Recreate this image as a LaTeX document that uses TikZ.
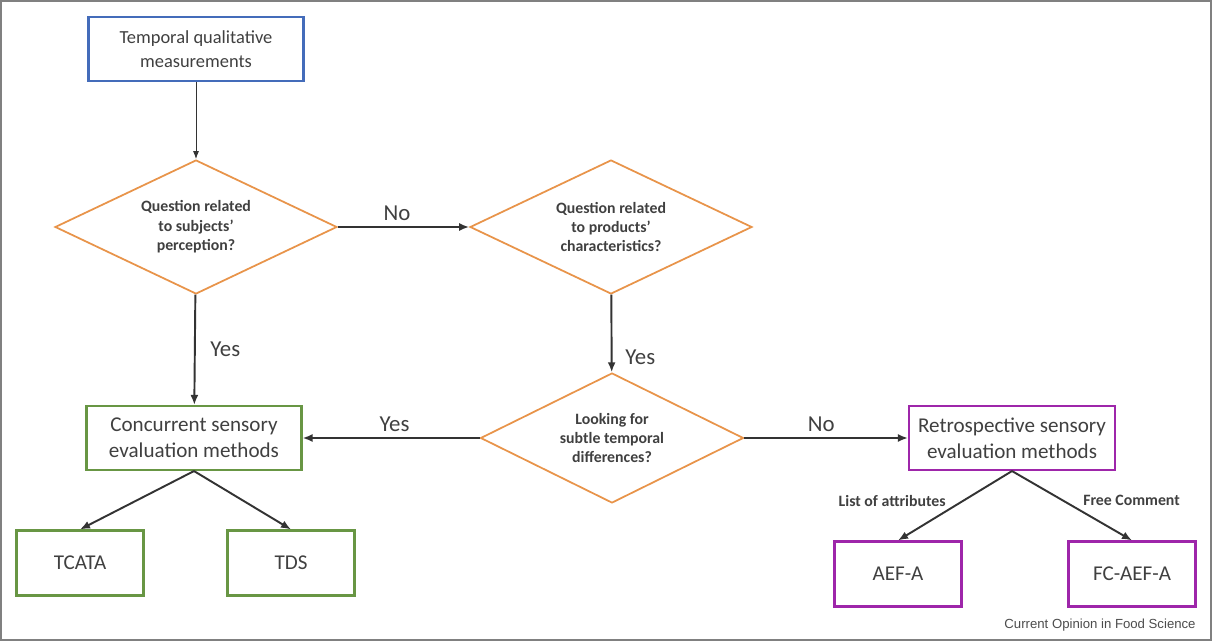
\documentclass[tikz,border=0pt]{standalone}
\usepackage{fontspec}
\setmainfont{Carlito}
\newfontfamily\creditfont{Liberation Sans}
\usetikzlibrary{arrows.meta,positioning,shapes.geometric}
\definecolor{qblue}{RGB}{68,108,186}
\definecolor{qorange}{RGB}{232,148,74}
\definecolor{qgreen}{RGB}{104,150,68}
\definecolor{qpurple}{RGB}{158,38,170}
\definecolor{qtext}{RGB}{64,64,64}

\begin{document}
\begin{tikzpicture}[x=0.02cm,y=-0.02cm,
  box/.style={draw,line width=1.2pt,fill=white,text=qtext,align=center,inner sep=0pt,
    minimum width=4.3cm,minimum height=1.28cm,font=\fontsize{12}{15}\selectfont},
  leaf/.style={box,minimum width=2.54cm,minimum height=1.3cm},
  question/.style={diamond,draw=qorange,line width=1pt,aspect=2.1,inner sep=0pt,
    minimum width=5.64cm,minimum height=2.68cm,align=center,text=qtext,
    font=\bfseries\fontsize{9}{11}\selectfont},
  link/.style={-{Latex[length=2mm,width=1.6mm]},line width=1.1pt,black!80},
  answer/.style={font=\fontsize{13}{15}\selectfont,text=qtext},
  branch/.style={font=\bfseries\fontsize{9}{11}\selectfont,text=qtext}]
  \useasboundingbox (0,0) rectangle (1212,641);
  \draw[gray,line width=0.8pt] (1,1) rectangle (1211,640);

  % start and questions
  \node[box,draw=qblue,font=\fontsize{10.5}{14}\selectfont] (temporal) at (196,49) {Temporal qualitative\\measurements};
  \node[question] (subjects) at (196,227) {Question related\\to subjects'\\perception?};
  \node[question] (products) at (611,227) {Question related\\to products'\\characteristics?};
  \node[question,minimum width=5.26cm,minimum height=2.6cm] (subtle) at (612,438) {Looking for\\subtle temporal\\differences?};

  % method families
  \node[box,draw=qgreen] (concurrent) at (194,438) {Concurrent sensory\\evaluation methods};
  \node[box,draw=qpurple,minimum width=4.12cm] (retro) at (1012,438) {Retrospective sensory\\evaluation methods};

  % methods
  \node[leaf,draw=qgreen] (tcata) at (80,563) {TCATA};
  \node[leaf,draw=qgreen] (tds) at (291,563) {TDS};
  \node[leaf,draw=qpurple] (aef) at (898,574) {AEF-A};
  \node[leaf,draw=qpurple] (fcaef) at (1132,574) {FC-AEF-A};

  \draw[-{Latex[length=1.6mm,width=1.2mm]},line width=0.5pt,black!80] (temporal) -- (subjects);
  \draw[link] (subjects) -- node[answer,above,pos=0.45]{No} (products);
  \draw[link] (subjects) -- node[answer,right=5pt]{Yes} (concurrent);
  \draw[link] (products) -- node[answer,right=4pt,pos=0.8]{Yes} (subtle);
  \draw[link] (subtle) -- node[answer,above,pos=0.48]{Yes} (concurrent);
  \draw[link] (subtle) -- node[answer,above,pos=0.47]{No} (retro);
  \draw[link] (concurrent.south) -- (tcata.north);
  \draw[link] (concurrent.south) -- (tds.north);
  \draw[link] (retro.south) -- node[branch,left=6pt,pos=0.43]{List of attributes} (aef.north);
  \draw[link] (retro.south) -- node[branch,right=8pt,pos=0.42]{Free Comment} (fcaef.north);

  \node[font=\creditfont\fontsize{7.5}{9}\selectfont,text=black!70] (credit) at (1100,625) {Current Opinion in Food Science};
\end{tikzpicture}
\end{document}
